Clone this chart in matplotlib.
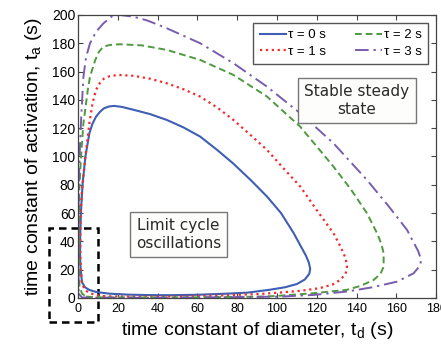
import numpy as np
import matplotlib.pyplot as plt
from matplotlib.patches import Rectangle

plt.rcParams['font.family'] = 'Liberation Sans'
plt.rcParams['mathtext.default'] = 'regular'

# boundary curves (t_d, t_a), each a closed loop
td_0 = [1.0, 1.3, 2.0, 3.5, 5.7, 9, 15.6, 25, 35, 46, 60, 75, 85, 96.6, 104, 110, 114, 116.2, 116.7,
        116, 114.5, 111, 108.3, 102, 95, 87, 78, 70, 61.4, 53, 44.6, 36, 27.8, 22, 18.3, 15.5, 13,
        11, 9, 7.2, 5.7, 3.7, 2.3, 1.5, 1.1, 1.0]
ta_0 = [30, 20, 11, 7.5, 5.6, 4.2, 3.0, 2.3, 2.0, 1.9, 2.2, 3.0, 3.7, 5.8, 7.5, 9.8, 13, 17, 20.5,
        25, 30, 39, 46, 60, 71.6, 83, 95, 104.5, 114, 120.5, 125.8, 130, 133, 135, 135.7, 135.3,
        134, 131.5, 128, 123, 116.4, 100, 81, 62, 45, 30]

td_1 = [12.7, 25, 46, 70, 92, 101.6, 112, 121.8, 128, 131.8, 134.5, 135.2, 134.5, 132, 128.4, 120,
        111.7, 103, 95, 86, 78.1, 70, 61.4, 53, 44.6, 36, 27.8, 20.3, 16, 13, 11, 9, 7.2, 5.7, 3.7,
        2.0, 1.3, 1.1, 1.2, 1.9, 3.5, 6, 9, 12.7]
ta_1 = [1.2, 0.9, 0.9, 1.6, 2.8, 3.8, 5.0, 7.0, 9.5, 12.7, 17, 22, 28, 36, 45.7, 62, 78.7, 92,
        104.6, 116, 125.8, 134.5, 142.3, 147.5, 151.7, 155, 157, 157.6, 156.8, 155, 152, 147, 137,
        123.5, 100, 76.3, 62, 40, 25, 10.4, 5.5, 3.3, 2.0, 1.2]

td_2 = [4, 10, 30, 60, 93, 100, 118.4, 128, 135.2, 142, 148.6, 152, 153.6, 153.6, 152.5, 150.3, 145.2,
        137, 128.4, 111.7, 95, 78.1, 61.4, 44.6, 32, 21, 16, 12.7, 10.5, 8.6, 6, 4.9, 2.7, 1.5, 0.6,
        0.4, 0.5, 0.7, 2, 4]
ta_2 = [0.9, 0.4, 0.3, 0.4, 0.9, 1.4, 3.3, 4.7, 5.7, 8.5, 12.7, 17, 22, 31.6, 38, 45.7, 59.9,
        77, 92.8, 121, 142.3, 157.6, 168.2, 175.3, 178.5, 179.3, 178.8, 177.6, 174, 168, 156.4, 147,
        123.5, 100, 76, 50, 25, 8, 3, 0.9]

td_3 = [0.3, 2, 10, 50, 101.6, 118.4, 135.2, 148, 160.4, 168.7, 172, 172.4, 171, 168, 165.4, 156,
        145.2, 128.4, 111.7, 95, 78.1, 61.4, 44.6, 35, 27.8, 21, 17, 12.7, 9, 6, 4, 2.7, 1.6, 0.9,
        0.3, 0.2, 0.3]
ta_3 = [3, 0.3, 0.1, 0.1, 0.9, 2.1, 4.5, 7.5, 11.5, 17.4, 23, 27, 33, 41, 48, 65, 83.4, 109.3,
        130.5, 149.3, 165.9, 180, 190.6, 196, 198.8, 200, 199, 194, 188, 180, 170, 156.4, 128, 105,
        76, 40, 3]

labels = [u'\u03c4 = 0 s', u'\u03c4 = 1 s', u'\u03c4 = 2 s', u'\u03c4 = 3 s']

fig = plt.figure(figsize=(4.41, 3.48), dpi=100)
ax = fig.add_axes([0.177, 0.144, 0.812, 0.813])

ax.plot(td_0, ta_0, '-', color='#3f5fb4', lw=1.5, label=labels[0])
ax.plot(td_1, ta_1, ':', color='#f52a2a', lw=1.6, label=labels[1])
ax.plot(td_2, ta_2, color='#4e9a3e', lw=1.4, ls=(0, (3.5, 2)), label=labels[2])
ax.plot(td_3, ta_3, color='#7a5cae', lw=1.4, ls=(0, (7, 2.5, 1.2, 2.5)), label=labels[3])

ax.set_xlim(0, 180)
ax.set_ylim(0, 200)
ax.set_xticks(np.arange(0, 181, 20))
ax.set_yticks(np.arange(0, 201, 20))
ax.tick_params(direction='in', top=True, right=True, length=3.5, labelsize=9,
               color='#444444')
ax.tick_params(axis='x', pad=4)
ax.tick_params(axis='y', pad=2, labelsize=10)
for s in ax.spines.values():
    s.set_color('#444444')
    s.set_linewidth(0.9)

ax.set_xlabel(r'time constant of diameter, t$_d$ (s)', fontsize=14, labelpad=3)
ax.set_ylabel(r'time constant of activation, t$_a$ (s)', fontsize=14, labelpad=6)

# ordre des entrees : colonne 1 = tau 0,1 ; colonne 2 = tau 2,3
leg = ax.legend(loc='upper right', bbox_to_anchor=(0.978, 0.973), ncol=2, fontsize=9.5,
                handlelength=2.0, handletextpad=0.15, columnspacing=2.2,
                borderaxespad=0, fancybox=False, framealpha=1, borderpad=0.5, labelspacing=0.3)
leg.get_frame().set_edgecolor('#555555')
leg.get_frame().set_linewidth(1.0)

box = dict(boxstyle='square,pad=0.4', facecolor='#fdfdfb', edgecolor='#777777', lw=1.0)
ax.text(140.2, 139.4, 'Stable steady\nstate', ha='center', va='center', fontsize=11,
        family='DejaVu Sans', color='#2a2a2a', bbox=box, linespacing=1.25)
ax.text(50.6, 44.9, 'Limit cycle\noscillations', ha='center', va='center', fontsize=11,
        family='DejaVu Sans', color='#2a2a2a', bbox=box, linespacing=1.25)

ax.add_patch(Rectangle((-14.6, -17), 24.6, 66.5, fill=False, ls=(0, (3, 2)), lw=1.8,
                       edgecolor='black', clip_on=False))

fig.savefig('out.png', dpi=100)
